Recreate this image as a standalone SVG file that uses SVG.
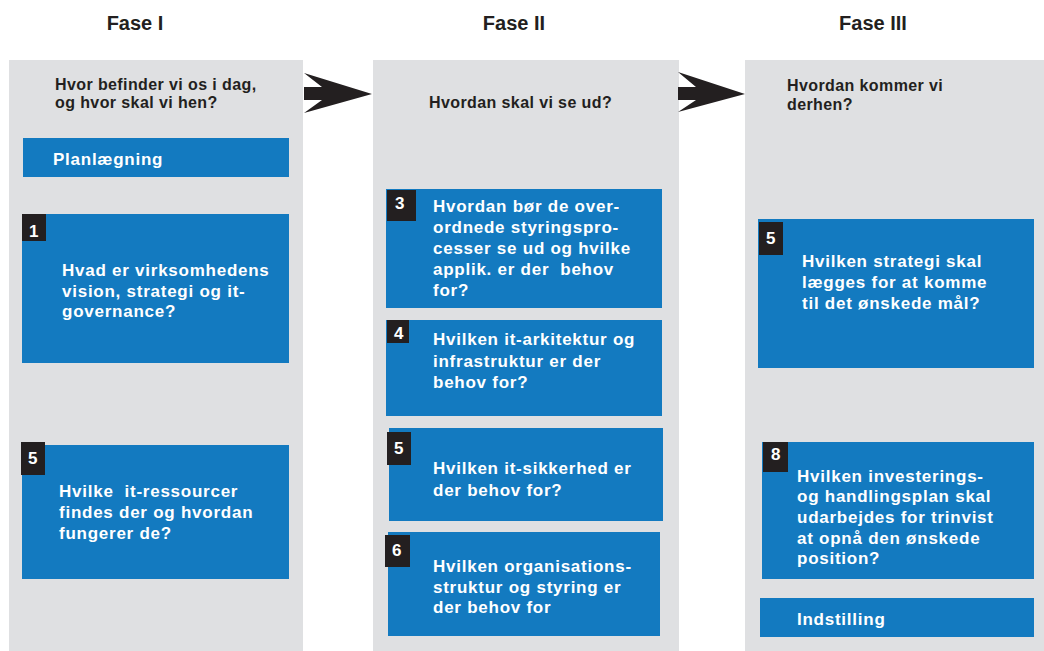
<svg xmlns="http://www.w3.org/2000/svg" width="1044" height="651" viewBox="0 0 1044 651">
<style>
.col{fill:#dfe0e2}
.box{fill:#137ac0}
.badge{fill:#231f20}
.phase{font-family:"Liberation Sans",Arial,sans-serif;font-weight:bold;font-size:20px;fill:#231f20;text-anchor:middle}
.q{font-family:"Liberation Sans",Arial,sans-serif;font-weight:bold;font-size:16px;fill:#231f20;letter-spacing:0.4px}
.t{font-family:"Liberation Sans",Arial,sans-serif;font-weight:bold;font-size:17px;fill:#ffffff;letter-spacing:0.75px;white-space:pre}
.n{font-family:"Liberation Sans",Arial,sans-serif;font-weight:bold;font-size:17px;fill:#ffffff}
.arrow{fill:#231f20}
</style>
<rect width="1044" height="651" fill="#ffffff"/>
<g id="columns">
<rect class="col" x="9" y="60" width="294" height="591"/>
<rect class="col" x="373" y="60" width="306" height="591"/>
<rect class="col" x="745" y="60" width="299" height="591"/>
</g>
<g id="headers">
<text class="phase" x="135" y="30">Fase I</text>
<text class="phase" x="514" y="30">Fase II</text>
<text class="phase" x="873" y="30">Fase III</text>
<text class="q" x="55" y="90">Hvor befinder vi os i dag,</text>
<text class="q" x="55" y="108">og hvor skal vi hen?</text>
<text class="q" x="429" y="108">Hvordan skal vi se ud?</text>
<text class="q" x="787" y="91">Hvordan kommer vi</text>
<text class="q" x="787" y="110">derhen?</text>
</g>
<g id="connectors">
<polygon class="arrow" points="304,73 372,94 304,113 322,100 304,100 304,87 322,87"/>
<polygon class="arrow" points="678,72 745,94 678,112 696,100 678,100 678,87 696,87"/>
</g>
<g id="planlaegning">
<rect class="box" x="23" y="138" width="266" height="39"/>
<text class="t" x="53" y="165">Planlægning</text>
</g>
<g id="f1-box1">
<rect class="box" x="22" y="214" width="267" height="149"/>
<rect class="badge" x="22" y="214" width="24" height="27"/>
<text class="n" x="29" y="237">1</text>
<text class="t" x="62" y="276">Hvad er virksomhedens</text>
<text class="t" x="62" y="297">vision, strategi og it-</text>
<text class="t" x="62" y="317">governance?</text>
</g>
<g id="f1-box5">
<rect class="box" x="22" y="445" width="267" height="134"/>
<rect class="badge" x="21" y="442" width="24" height="33"/>
<text class="n" x="28" y="464">5</text>
<text class="t" x="59" y="497" xml:space="preserve">Hvilke  it-ressourcer</text>
<text class="t" x="59" y="518">findes der og hvordan</text>
<text class="t" x="59" y="539">fungerer de?</text>
</g>
<g id="f2-box3">
<rect class="box" x="386" y="189" width="276" height="119"/>
<rect class="badge" x="387" y="190" width="29" height="31"/>
<text class="n" x="395" y="209">3</text>
<text class="t" x="433" y="212">Hvordan bør de over-</text>
<text class="t" x="433" y="233">ordnede styringspro-</text>
<text class="t" x="433" y="254">cesser se ud og hvilke</text>
<text class="t" x="433" y="275" xml:space="preserve">applik. er der  behov</text>
<text class="t" x="433" y="296">for?</text>
</g>
<g id="f2-box4">
<rect class="box" x="386" y="320" width="276" height="96"/>
<rect class="badge" x="387" y="320" width="22" height="23"/>
<text class="n" x="394" y="339">4</text>
<text class="t" x="433" y="345">Hvilken it-arkitektur og</text>
<text class="t" x="433" y="367">infrastruktur er der</text>
<text class="t" x="433" y="388">behov for?</text>
</g>
<g id="f2-box5">
<rect class="box" x="389" y="428" width="274" height="93"/>
<rect class="badge" x="387" y="432" width="24" height="33"/>
<text class="n" x="394" y="454">5</text>
<text class="t" x="433" y="474">Hvilken it-sikkerhed er</text>
<text class="t" x="433" y="496">der behov for?</text>
</g>
<g id="f2-box6">
<rect class="box" x="388" y="532" width="272" height="104"/>
<rect class="badge" x="385" y="535" width="25" height="32"/>
<text class="n" x="392" y="556">6</text>
<text class="t" x="433" y="572">Hvilken organisations-</text>
<text class="t" x="433" y="593">struktur og styring er</text>
<text class="t" x="433" y="613">der behov for</text>
</g>
<g id="f3-box5">
<rect class="box" x="758" y="219" width="276" height="149"/>
<rect class="badge" x="759" y="222" width="24" height="33"/>
<text class="n" x="766" y="244">5</text>
<text class="t" x="802" y="267">Hvilken strategi skal</text>
<text class="t" x="802" y="288">lægges for at komme</text>
<text class="t" x="802" y="309">til det ønskede mål?</text>
</g>
<g id="f3-box8">
<rect class="box" x="762" y="442" width="272" height="137"/>
<rect class="badge" x="763" y="442" width="25" height="30"/>
<text class="n" x="771" y="460">8</text>
<text class="t" x="797" y="482">Hvilken investerings-</text>
<text class="t" x="797" y="502">og handlingsplan skal</text>
<text class="t" x="797" y="523">udarbejdes for trinvist</text>
<text class="t" x="797" y="544">at opnå den ønskede</text>
<text class="t" x="797" y="564">position?</text>
</g>
<g id="indstilling">
<rect class="box" x="760" y="598" width="274" height="39"/>
<text class="t" x="797" y="625">Indstilling</text>
</g>
</svg>
